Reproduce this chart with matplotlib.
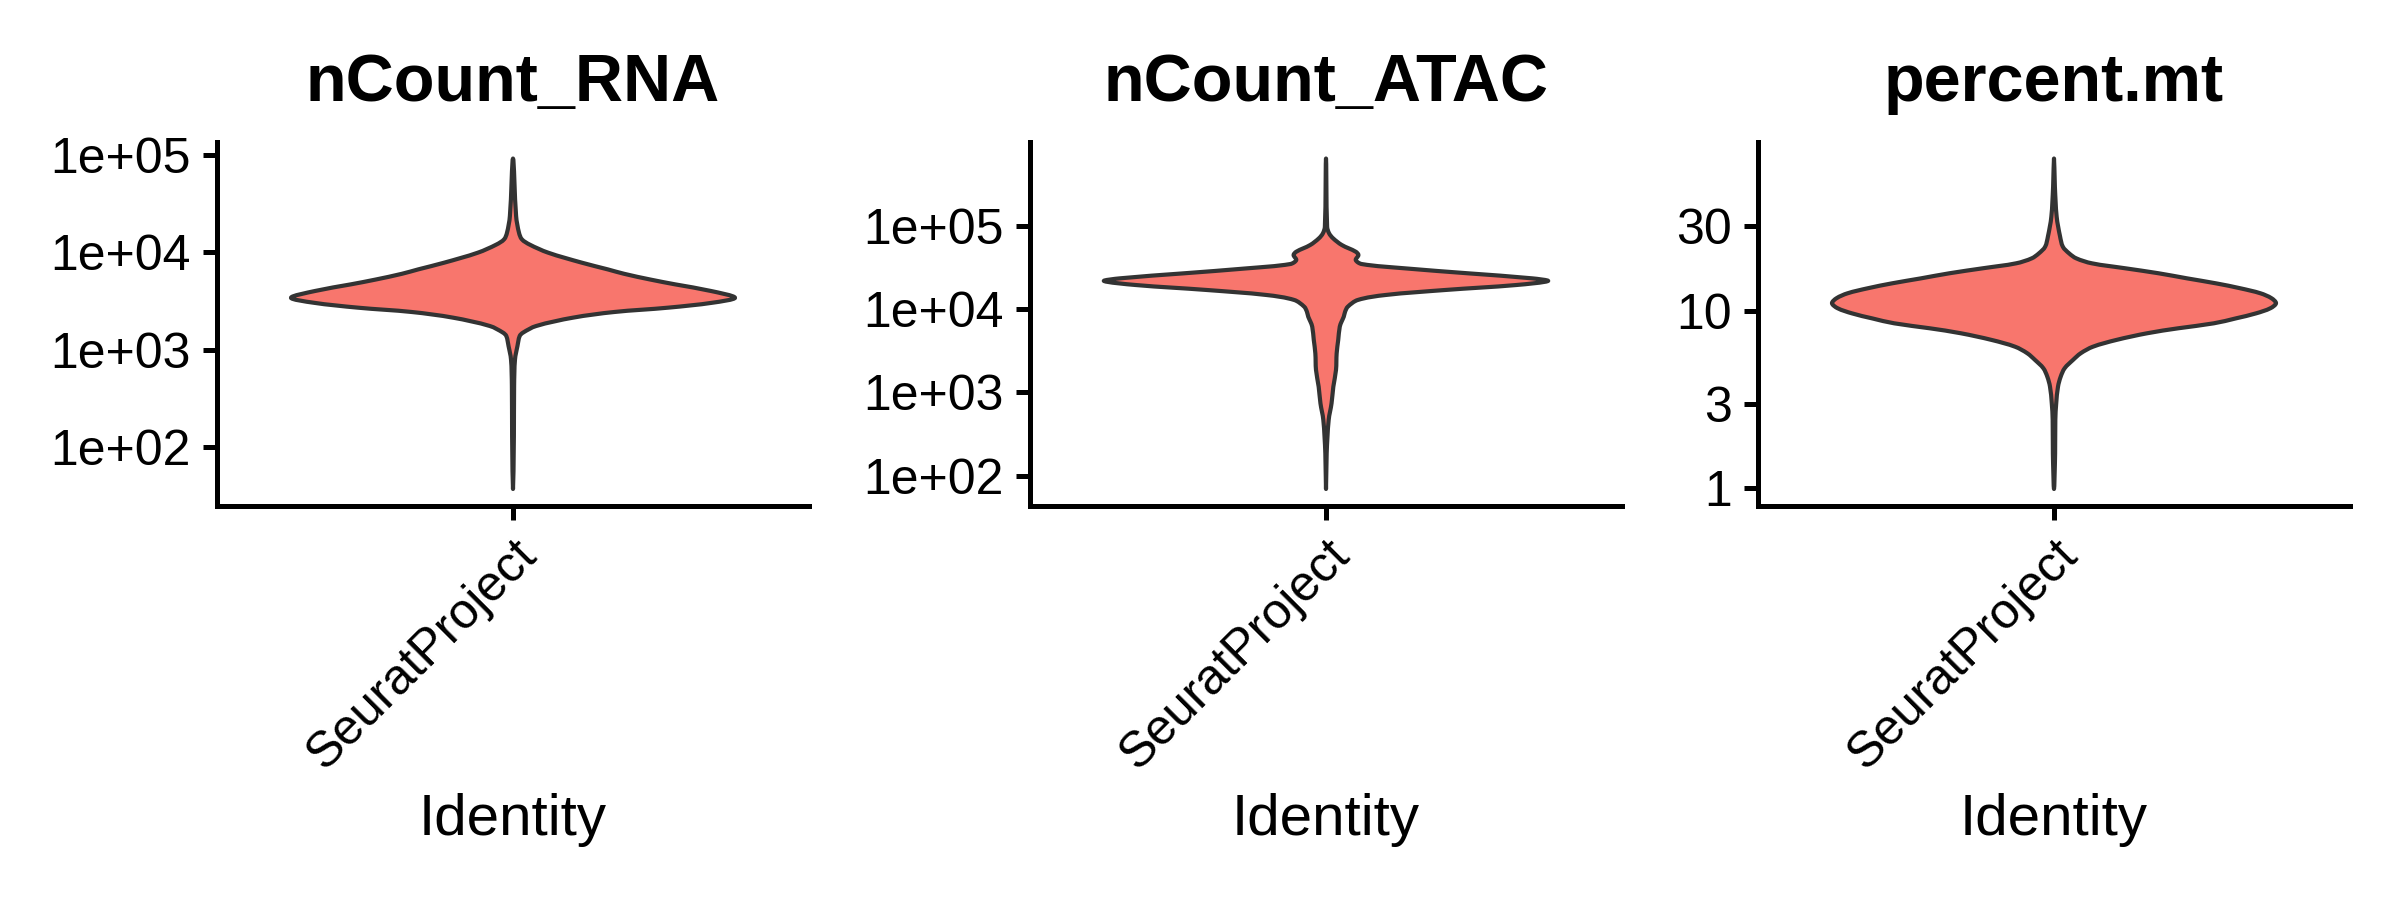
import numpy as np
import matplotlib
matplotlib.use("Agg")
import matplotlib.pyplot as plt
from matplotlib.path import Path
from matplotlib.patches import PathPatch

plt.rcParams['font.family'] = ['Liberation Sans', 'DejaVu Sans']

# ---------------- data ----------------
titles = ["nCount_RNA", "nCount_ATAC", "percent.mt"]
category = ["SeuratProject"]
x_label = "Identity"

# violin outline profiles: log10(value) from bottom tip to top tip, and relative half-width
rna_log10 = [1.569, 2.112, 2.626, 2.900, 3.037, 3.140, 3.175, 3.243, 3.329, 3.387, 3.432, 3.483,
             3.534, 3.603, 3.671, 3.720, 3.780, 3.825, 3.894, 3.997, 4.080, 4.134, 4.202, 4.373, 4.964]
rna_width = [0.0, 0.004, 0.005, 0.009, 0.020, 0.030, 0.045, 0.104, 0.270, 0.455, 0.700, 0.900,
             1.0, 0.892, 0.731, 0.620, 0.500, 0.427, 0.310, 0.158, 0.075, 0.040, 0.027, 0.014, 0.0]

atac_log10 = [1.840, 2.268, 2.668, 2.869, 3.069, 3.269, 3.470, 3.630, 3.790, 3.850, 3.910,
              3.970, 4.030, 4.111, 4.171, 4.231, 4.291, 4.339, 4.371, 4.431, 4.491, 4.543,
              4.591, 4.651, 4.691, 4.772, 4.852, 4.912, 4.992, 5.811]
atac_width = [0.0, 0.003, 0.012, 0.025, 0.033, 0.045, 0.048, 0.055, 0.062, 0.070, 0.080,
              0.086, 0.098, 0.143, 0.268, 0.536, 0.857, 1.0, 0.929, 0.643, 0.357, 0.161,
              0.134, 0.146, 0.134, 0.071, 0.032, 0.014, 0.005, 0.0]

mt_log10 = [-0.004, 0.197, 0.385, 0.479, 0.572, 0.628, 0.676, 0.722, 0.760, 0.797, 0.835,
            0.873, 0.901, 0.929, 0.957, 0.985, 1.014, 1.042, 1.070, 1.098, 1.126, 1.154,
            1.182, 1.211, 1.239, 1.267, 1.295, 1.323, 1.360, 1.420, 1.529, 1.698, 1.857]
mt_width = [0.0, 0.005, 0.006, 0.010, 0.018, 0.030, 0.048, 0.085, 0.120, 0.175, 0.280,
            0.420, 0.560, 0.720, 0.820, 0.910, 0.975, 1.0, 0.980, 0.930, 0.840, 0.730,
            0.600, 0.470, 0.320, 0.170, 0.100, 0.068, 0.040, 0.027, 0.012, 0.004, 0.0]

y_ticks = [[1e2, 1e3, 1e4, 1e5], [1e2, 1e3, 1e4, 1e5], [1, 3, 10, 30]]
y_ticklabels = [["1e+02", "1e+03", "1e+04", "1e+05"],
                ["1e+02", "1e+03", "1e+04", "1e+05"],
                ["1", "3", "10", "30"]]

profiles = [(rna_log10, rna_width), (atac_log10, atac_width), (mt_log10, mt_width)]

# ---------------- styling ----------------
fill_color = "#F8766D"
edge_color = "#333333"
W, H = 2400, 900
fig = plt.figure(figsize=(8, 3), dpi=300)

lefts = [217, 1030, 1758]
ax_w, top_px, bot_px = 592, 142, 505.5
ax_h = bot_px - top_px


def smooth_closed_path(px, py, sx, sy):
    """Closed Bezier path passing through the outline points (chord-length Catmull-Rom)."""
    P = np.column_stack([px, py])
    n = len(P)
    D = np.column_stack([px * sx, py * sy])
    verts, codes = [], []
    T = np.zeros_like(P)
    for i in range(n):
        a, b = (i - 1) % n, (i + 1) % n
        da = np.hypot(*(D[i] - D[a])) + 1e-9
        db = np.hypot(*(D[b] - D[i])) + 1e-9
        T[i] = (P[b] - P[a]) / (da + db)
    verts.append(P[0]); codes.append(Path.MOVETO)
    for i in range(n):
        j = (i + 1) % n
        d = np.hypot(*(D[j] - D[i]))
        verts += [P[i] + T[i] * d / 3, P[j] - T[j] * d / 3, P[j]]
        codes += [Path.CURVE4] * 3
    verts.append(P[0]); codes.append(Path.CLOSEPOLY)
    return np.array(verts), codes


for i in range(3):
    ax = fig.add_axes([lefts[i] / W, 1 - bot_px / H, ax_w / W, ax_h / H])
    logs = np.array(profiles[i][0])
    wid = np.array(profiles[i][1]) * 0.45
    lo, hi = logs.min(), logs.max()
    rng = hi - lo
    # outline: right side bottom->top, then left side top->bottom (drop duplicate tips)
    xs = np.concatenate([1 + wid, (1 - wid)[::-1][1:-1]])
    ls = np.concatenate([logs, logs[::-1][1:-1]])
    sx = ax_w / 1.2
    sy = ax_h / (1.1 * rng)
    verts, codes = smooth_closed_path(xs, ls, sx, sy)
    verts[:, 1] = 10 ** verts[:, 1]
    patch = PathPatch(Path(verts, codes), facecolor=fill_color, edgecolor=edge_color,
                      linewidth=1.0, joinstyle='round')
    ax.add_patch(patch)
    ax.set_yscale('log')
    ax.set_ylim(10 ** (lo - 0.05 * rng), 10 ** (hi + 0.05 * rng))
    ax.set_xlim(0.4, 1.6)
    ax.yaxis.set_minor_locator(matplotlib.ticker.NullLocator())
    ax.set_yticks(y_ticks[i])
    ax.set_yticklabels(y_ticklabels[i])
    ax.set_xticks([1])
    ax.set_xticklabels(category, rotation=45, ha='right', rotation_mode='anchor')
    for s in ['top', 'right']:
        ax.spines[s].set_visible(False)
    for s in ['left', 'bottom']:
        ax.spines[s].set_linewidth(1.2)
        ax.spines[s].set_color('black')
    ax.tick_params(axis='both', length=3.3, width=1.2, color='black',
                   labelsize=12, labelcolor='black', pad=3)
    ax.text(0.5, 1 + 41 / ax_h, titles[i], transform=ax.transAxes,
            ha='center', va='baseline', fontsize=16, fontweight='bold')
    ax.text(0.5, -(835 - bot_px) / ax_h, x_label, transform=ax.transAxes,
            ha='center', va='baseline', fontsize=14)

fig.savefig("out.png", dpi=300, facecolor='white')
